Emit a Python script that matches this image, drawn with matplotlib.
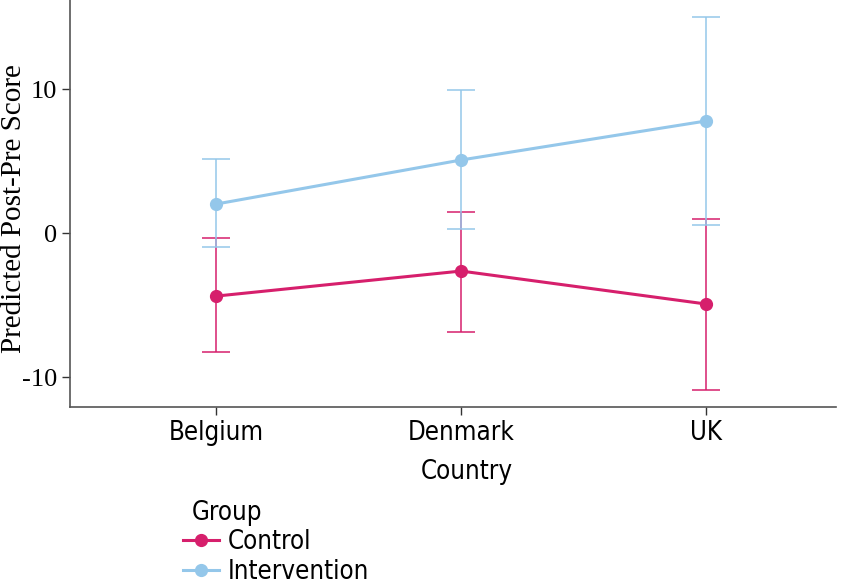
import matplotlib.pyplot as plt
from matplotlib import font_manager
import numpy as np

countries = ['Belgium', 'Denmark', 'UK']
groups = ['Control', 'Intervention']

control_mean = [-4.38, -2.64, -4.93]
control_lo = [-8.26, -6.88, -10.90]
control_hi = [-0.35, 1.46, 0.97]

interv_mean = [2.01, 5.07, 7.78]
interv_lo = [-0.97, 0.28, 0.56]
interv_hi = [5.14, 9.93, 15.00]

colors = {'Control': '#d61f6c', 'Intervention': '#94c7ea'}

serif_tick = font_manager.FontProperties(family=['Liberation Serif', 'DejaVu Serif'], size=19)
serif_lab = font_manager.FontProperties(family=['Liberation Serif', 'DejaVu Serif'], size=21)
narrow = font_manager.FontProperties(family=['DejaVu Sans'], stretch='condensed', size=18.5)

fig = plt.figure(figsize=(8.5, 5.8), dpi=100)
ax = fig.add_axes([70/850, 1 - 407/580, (836 - 70)/850, 407/580])

x = np.arange(len(countries))
series = [
    ('Control', control_mean, control_lo, control_hi),
    ('Intervention', interv_mean, interv_lo, interv_hi),
]
handles = []
for name, mean, lo, hi in series:
    mean = np.array(mean)
    err = [mean - np.array(lo), np.array(hi) - mean]
    c = colors[name]
    ax.errorbar(x, mean, yerr=err, fmt='none', ecolor=c, elinewidth=1.1,
                capsize=10, capthick=1.1, zorder=2)
    h, = ax.plot(x, mean, color=c, lw=2.2, marker='o', ms=8.5, zorder=3,
                 label=name)
    handles.append(h)

ax.set_xlim(-0.596, 2.53)
ax.set_ylim(-12.08, 16.18)
ax.set_xticks(x)
ax.set_xticklabels(countries, fontproperties=narrow)
ax.set_yticks([-10, 0, 10])
ax.set_yticklabels(['-10', '0', '10'], fontproperties=serif_tick)
ax.set_xlabel('Country', fontproperties=narrow)
ax.xaxis.set_label_coords((467 - 70)/766, -52/407)
ax.set_ylabel('Predicted Post-Pre Score', fontproperties=serif_lab)
ax.yaxis.set_label_coords(-43/766, 1 - 209/407)

for s in ['top', 'right']:
    ax.spines[s].set_visible(False)
for s in ['left', 'bottom']:
    ax.spines[s].set_color('#555555')
    ax.spines[s].set_linewidth(1.2)
ax.tick_params(length=6, color='#333333', width=1)

fig.text(192/850, 1 - 513/580, 'Group', fontproperties=narrow, va='center', ha='left')
leg = fig.legend(handles=handles, labels=groups,
                 loc='upper left', bbox_to_anchor=(183/850, 1 - 529/580),
                 frameon=False, prop=narrow,
                 handlelength=1.4, handletextpad=0.35, labelspacing=0.15,
                 borderaxespad=0, borderpad=0)

fig.savefig('out.png', dpi=100)
